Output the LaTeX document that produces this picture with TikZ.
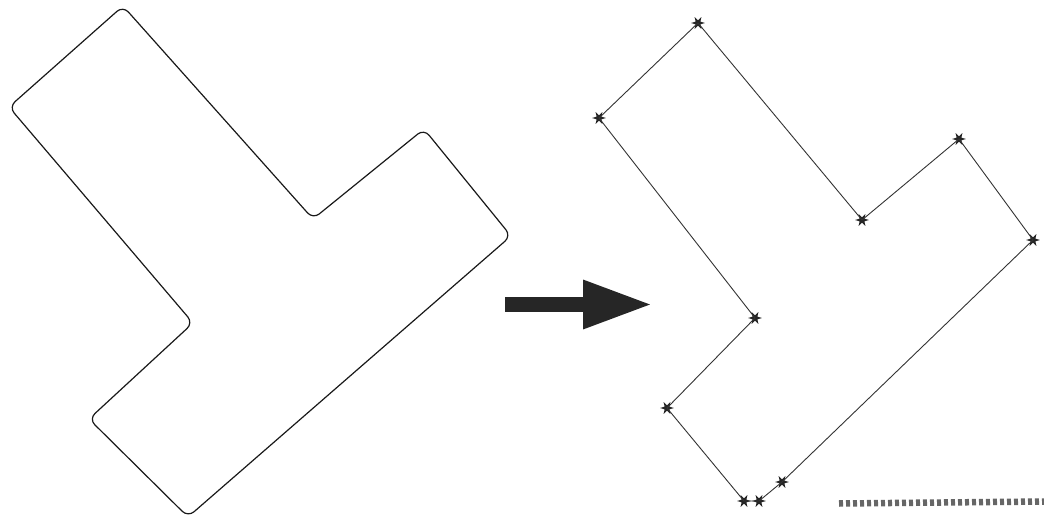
\documentclass[tikz,border=0pt]{standalone}
\usetikzlibrary{arrows.meta,shapes.geometric}

\tikzset{
  traced/.style={line width=1.2pt, draw=black!90, rounded corners=8pt},
  polyline/.style={line width=0.9pt, draw=black!80},
  vtx/.style={star, star points=6, star point ratio=0.4, fill=black!85,
              minimum size=5.5pt, inner sep=0pt},
  bigarrow/.style={line width=15pt, draw=black!85,
                   -{Triangle[length=70pt, width=45pt, fill=black!85]}},
  scalebar/.style={line width=6.5pt, draw=black!60, dash pattern=on 4pt off 3pt}
}

\begin{document}
\begin{tikzpicture}[x=1pt, y=-1pt, line cap=butt, line join=round]

  %% ════ left: traced outline ════
  \draw[traced]
    (123,6) -- (313,219) -- (424,129) -- (511,236) -- (188,517)
    -- (89,419) -- (193,323) -- (9,107) -- cycle;

  %% ════ middle: arrow ════
  \coordinate (arrtail) at (505,304.5);
  \coordinate (arrhead) at (653,304.5);
  \draw[bigarrow] (arrtail) -- (arrhead);

  %% ════ right: simplified polygon with vertex marks ════
  \node[vtx] (pa) at (698,23) {};
  \node[vtx] (pj) at (862,220) {};
  \node[vtx] (pi) at (959,139) {};
  \node[vtx] (ph) at (1033,240) {};
  \node[vtx] (pg) at (782,482) {};
  \node[vtx] (pf) at (759,501) {};
  \node[vtx] (pe) at (744,501) {};
  \node[vtx] (pd) at (667,408) {};
  \node[vtx] (pc) at (755,318) {};
  \node[vtx] (pb) at (599,118) {};

  \draw[polyline] (pa.center) -- (pj.center) -- (pi.center) -- (ph.center)
    -- (pg.center) -- (pf.center) -- (pe.center) -- (pd.center)
    -- (pc.center) -- (pb.center) -- cycle;

  %% ════ scale bar ════
  \coordinate (barl) at (839,503.5);
  \coordinate (barr) at (1044,501.5);
  \draw[scalebar] (barl) -- (barr);

  \pgfresetboundingbox
  \path[use as bounding box] (0,0) rectangle (1044,521);
\end{tikzpicture}
\end{document}
